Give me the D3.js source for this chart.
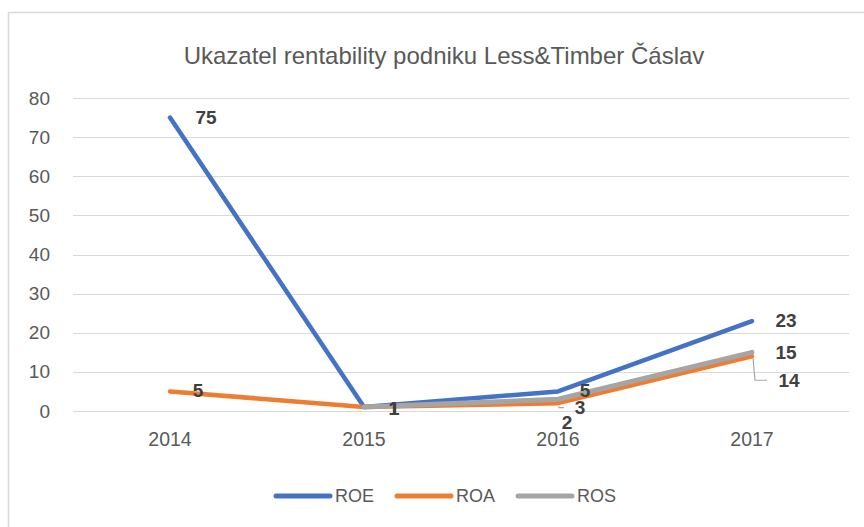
<!DOCTYPE html>
<html>
<head>
<meta charset="utf-8">
<script src="https://cdn.jsdelivr.net/npm/d3@7"></script>
<style>
  body { margin: 0; background: #fff; }
  text { font-family: "Liberation Sans", Arial, sans-serif; }
</style>
</head>
<body>
<div id="chart"></div>
<script>
var years = ['2014', '2015', '2016', '2017'];
var roe = [75, 1, 5, 23];
var roa = [5, 1, 2, 14];
var ros = [null, 1, 3, 15];
var yTicks = [0, 10, 20, 30, 40, 50, 60, 70, 80];
var seriesNames = ['ROE', 'ROA', 'ROS'];

// label offsets (dx, dy) from each point, per series
var labelOff = {
    ROE: [[36, 1], [30, 3], [27, 1], [34, 1]],
    ROA: [[28, 1], [30, 3], [9, 21], [37, 26]],
    ROS: [null, [30, 3], [22, 10], [34, 2]]
};

var W = 864, H = 527;
var m = {t: 98, r: 15, b: 116, l: 73};
var cols = {ROE: '#4472C4', ROA: '#ED7D31', ROS: '#A5A5A5'};

var svg = d3.select('#chart').append('svg')
    .attr('width', W).attr('height', H);

svg.append('rect').attr('x', 8.5).attr('y', 12.5)
    .attr('width', 900).attr('height', 600)
    .attr('fill', 'none').attr('stroke', '#d9d9d9').attr('stroke-width', 1.5);

svg.append('text').attr('x', 444).attr('y', 64)
    .attr('text-anchor', 'middle').attr('font-size', 24).attr('fill', '#595959')
    .text('Ukazatel rentability podniku Less&Timber Čáslav');

var x = d3.scaleBand().domain(years).range([m.l, W - m.r]);
var y = d3.scaleLinear().domain([0, 80]).range([H - m.b, m.t]);

var g = svg.append('g');

// gridlines
g.selectAll('.grid').data(yTicks).enter().append('line')
    .attr('x1', m.l).attr('x2', W - m.r)
    .attr('y1', function(d){ return Math.round(y(d)) + 0.5; })
    .attr('y2', function(d){ return Math.round(y(d)) + 0.5; })
    .attr('stroke', '#d9d9d9').attr('stroke-width', 1.2);

var yAxis = g.append('g').attr('transform', 'translate(' + (m.l - 20) + ',0)')
    .call(d3.axisLeft(y).tickValues(yTicks).tickSize(0).tickPadding(3));
yAxis.select('.domain').remove();
yAxis.selectAll('text').attr('font-size', 19).attr('fill', '#595959')
    .style('font-family', '"Liberation Sans", Arial, sans-serif');

var xAxis = g.append('g').attr('transform', 'translate(0,' + (H - m.b) + ')')
    .call(d3.axisBottom(x).tickSize(0).tickPadding(21));
xAxis.select('.domain').remove();
xAxis.selectAll('text').attr('font-size', 19.5).attr('fill', '#595959')
    .style('font-family', '"Liberation Sans", Arial, sans-serif');

var data = {ROE: roe, ROA: roa, ROS: ros};
function px(i){ return x(years[i]) + x.bandwidth() / 2; }
var line = d3.line()
    .defined(function(d){ return d != null; })
    .x(function(d, i){ return px(i); })
    .y(function(d){ return y(d); });

seriesNames.forEach(function(s){
    g.append('path').datum(data[s])
        .attr('d', line).attr('fill', 'none')
        .attr('stroke', cols[s]).attr('stroke-width', s == 'ROS' ? 5 : 4.5)
        .attr('stroke-linecap', 'round').attr('stroke-linejoin', 'round');
});

// leader lines for the displaced ROA labels
var p2x = px(2), p2y = y(roa[2]);
g.append('path')
    .attr('d', 'M' + (p2x + 1) + ',' + (p2y + 3) + 'V' + (p2y + 4.5) + 'H' + (p2x + 6))
    .attr('fill', 'none').attr('stroke', '#a6a6a6').attr('stroke-width', 1.2);
var p3x = px(3), p3y = y(roa[3]);
g.append('path')
    .attr('d', 'M' + (p3x + 1) + ',' + (p3y + 2) + 'L' + (p3x + 3) + ',' + (p3y + 24) + 'H' + (p3x + 15))
    .attr('fill', 'none').attr('stroke', '#a6a6a6').attr('stroke-width', 1.2);

seriesNames.forEach(function(s){
    data[s].forEach(function(v, i){
        if (v == null) return;
        var o = labelOff[s][i];
        g.append('text')
            .attr('x', px(i) + o[0])
            .attr('y', y(v) + o[1])
            .attr('text-anchor', 'middle').attr('dominant-baseline', 'middle')
            .attr('font-size', 19).attr('font-weight', 'bold').attr('fill', '#404040')
            .text(v);
    });
});

// legend
var leg = svg.append('g').attr('transform', 'translate(276,496)');
var items = leg.selectAll('g').data(seriesNames).enter().append('g')
    .attr('transform', function(d, i){ return 'translate(' + (i * 121) + ',0)'; });
items.append('line').attr('x1', 0).attr('x2', 54)
    .attr('stroke', function(d){ return cols[d]; })
    .attr('stroke-width', 5).attr('stroke-linecap', 'round');
items.append('text').attr('x', 59).attr('y', 1)
    .attr('dominant-baseline', 'middle').attr('font-size', 18).attr('fill', '#595959')
    .text(function(d){ return d; });
</script>
</body>
</html>
